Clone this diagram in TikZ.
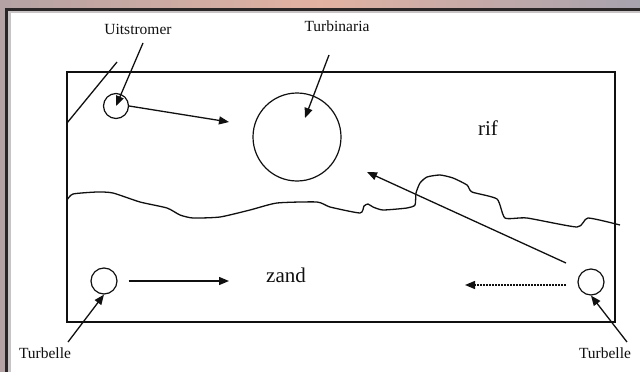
\documentclass[tikz,border=0pt]{standalone}
\usepackage{fontspec}
\setmainfont{Liberation Serif}
\usetikzlibrary{arrows.meta,calc}
\definecolor{bgl}{HTML}{B4A2A4}
\definecolor{bgm}{HTML}{E2B2A2}
\definecolor{bgr}{HTML}{A6A2AE}
\definecolor{framedark}{HTML}{2A2628}
\definecolor{framelight}{HTML}{C8C4C6}
\definecolor{ink}{HTML}{101010}
\tikzset{
  ln/.style={draw=ink, line width=1.3pt},
  arr/.style={ln, -{Triangle[length=10pt,width=8pt]}},
  dsh/.style={ln, dash pattern=on 2pt off 1pt, -{Triangle[length=10pt,width=8pt]}},
  ring/.style={circle, draw=ink, line width=1.2pt, inner sep=0pt},
  lab/.style={font=\fontsize{15.5}{18}\selectfont, text=ink, inner sep=1pt},
  biglab/.style={font=\fontsize{21}{24}\selectfont, text=ink, inner sep=1pt},
}
\begin{document}
\begin{tikzpicture}[x=1pt,y=-1pt]
\useasboundingbox (0,0) rectangle (640,372);
% frame background
\shade[left color=bgl, right color=bgr, middle color=bgm] (0,0) rectangle (640,372);
\fill[framedark] (5,8) rectangle (640,372);
\fill[framelight] (8,11) rectangle (640,372);
\fill[white] (11,13) rectangle (640,372);
% tank
\draw[ink, line width=1.5pt] (67,72) rectangle (615,322);
% reef line
\draw[ln, line width=1.3pt] plot[smooth, tension=0.35] coordinates {
 (67,200) (73,194) (97,192) (113,193) (140,202) (167,208) (180,215) (193,218)
 (220,217) (250,210) (277,203) (317,202) (330,207) (360,213) (364,206) (368,204)
 (373,207) (383,210) (407,208) (415,205) (416,193) (420,183) (427,177) (440,175)
 (453,178) (467,185) (472,192) (497,199) (505,218) (527,218) (577,227) (588,218) (620,225)};
% overflow line
\coordinate (ov1) at (117,62);
\coordinate (ov2) at (67,123);
\draw[ln] (ov1) -- (ov2);
% circles
\node[ring, minimum size=25pt] (uit) at (116,106) {};
\node[ring, minimum size=88pt] (turb) at (297,137) {};
\node[ring, minimum size=26pt] (tl) at (104,281) {};
\node[ring, minimum size=26pt] (tr) at (591,282) {};
% labels
\node[lab] (ulab) at (138,29) {Uitstromer};
\node[lab] (tlab) at (337,26) {Turbinaria};
\node[biglab] (rif) at (488,128) {rif};
\node[biglab] (zand) at (286,275) {zand};
\node[lab] (tllab) at (45,353) {Turbelle};
\node[lab] (trlab) at (605,353) {Turbelle};
% pointer arrows
\coordinate (ua) at (143,43);
\draw[arr] (ua) -- (uit.center);
\coordinate (ta) at (329,55);
\coordinate (tb) at (305,118);
\draw[arr] (ta) -- (tb);
\coordinate (la) at (68,342);
\draw[arr] (la) -- (tl.south);
\coordinate (ra) at (627,342);
\draw[arr] (ra) -- (tr.south);
% flow arrows
\coordinate (f1) at (229,122);
\draw[arr] (uit.east) -- (f1);
\coordinate (f2) at (229,281);
\draw[arr] ($(tl.east)+(11,0)$) -- (f2);
\coordinate (f3a) at (566,285);
\coordinate (f3b) at (465,285);
\draw[dsh] (f3a) -- (f3b);
\coordinate (f4a) at (566,263);
\coordinate (f4b) at (367,172);
\draw[arr] (f4a) -- (f4b);
\end{tikzpicture}
\end{document}
